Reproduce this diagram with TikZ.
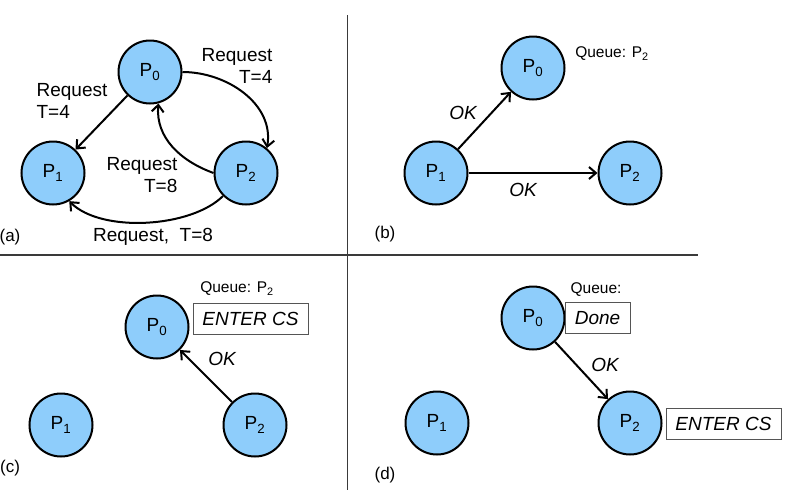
\documentclass[tikz,border=0pt]{standalone}
\usepackage{fontspec}
\setmainfont{Liberation Sans}
\usetikzlibrary{arrows.meta}
\definecolor{mProc}{HTML}{8ECDFB}
\definecolor{mRule}{HTML}{3A3A3A}
\definecolor{mBox}{HTML}{555555}

\begin{document}
\begin{tikzpicture}[x=1pt,y=-1pt,
  proc/.style={circle,draw=black,line width=2pt,fill=mProc,
    minimum size=63pt,inner sep=0pt},
  msg/.style={-{Straight Barb[length=7pt,width=12pt]},line width=2pt},
  csbox/.style={draw=mBox,line width=1pt,font=\itshape,
    inner xsep=8pt,minimum height=31pt},
  queue/.style={font=\fontsize{15.5}{18}\selectfont},
  panel/.style={font=\fontsize{17}{20}\selectfont}
]
\fontsize{19}{22}\selectfont
\useasboundingbox (0,0) rectangle (786,498);

% frame lines
\coordinate (vtop) at (347.5,15);
\coordinate (vbot) at (347.5,490);
\coordinate (hleft) at (0,255);
\coordinate (hright) at (698,255);
\draw[mRule,line width=1.8pt] (vtop) -- (vbot);
\draw[mRule,line width=1.8pt] (hleft) -- (hright);

% (a) requests
\node[proc] (p0a) at (150,72) {P\textsubscript{0}};
\node[proc] (p1a) at (53,173) {P\textsubscript{1}};
\node[proc] (p2a) at (246,173) {P\textsubscript{2}};

\draw[msg] (p0a) -- (p1a);
\draw[msg] (p0a.east) to[out=0,in=80] (p2a.50);
\draw[msg] (p2a.west) to[out=160,in=-95] (p0a.-75);
\draw[msg] (p2a.-135) to[out=-135,in=-45,looseness=0.75] (p1a.-60);

\node[align=left] (rq01) at (72,101) {Request\\T=4};
\node[align=right] (rq02) at (237,66) {Request\\T=4};
\node[align=right] (rq20) at (142,175) {Request\\T=8};
\node (rq21) at (153,237) {Request,\ \ T=8};
\node[panel] (laba) at (10,237) {(a)};

% (b) replies from P1
\node[proc] (p0b) at (533,68) {P\textsubscript{0}};
\node[proc] (p1b) at (436,173) {P\textsubscript{1}};
\node[proc] (p2b) at (630,173) {P\textsubscript{2}};

\draw[msg] (p1b) -- (p0b);
\draw[msg] (p1b) -- (p2b);

\node[queue] (qb) at (612,54) {Queue: P\textsubscript{2}};
\node[font=\itshape] (okb1) at (463,113) {OK};
\node[font=\itshape] (okb2) at (523,190) {OK};
\node[panel] (labb) at (385,234) {(b)};

% (c) P0 enters
\node[proc] (p0c) at (157,327) {P\textsubscript{0}};
\node[proc] (p1c) at (61,425) {P\textsubscript{1}};
\node[proc] (p2c) at (255,425) {P\textsubscript{2}};

\draw[msg] (p2c) -- (p0c);

\node[queue] (qc) at (237,289) {Queue: P\textsubscript{2}};
\node[csbox,minimum width=115pt] (csc) at (250.5,318.5) {ENTER CS};
\node[font=\itshape] (okc) at (222,359) {OK};
\node[panel] (labc) at (10,468) {(c)};

% (d) P0 done, P2 enters
\node[proc] (p0d) at (533,318) {P\textsubscript{0}};
\node[proc] (p1d) at (437,423) {P\textsubscript{1}};
\node[proc] (p2d) at (630,423) {P\textsubscript{2}};

\draw[msg] (p0d) -- (p2d);

\node[queue] (qd) at (596,290) {Queue:};
\node[csbox,minimum width=65pt] (doned) at (597.5,318) {Done};
\node[csbox,minimum width=115pt] (csd) at (723.5,424) {ENTER CS};
\node[font=\itshape] (okd) at (605,365) {OK};
\node[panel] (labd) at (385,475) {(d)};
\end{tikzpicture}
\end{document}
